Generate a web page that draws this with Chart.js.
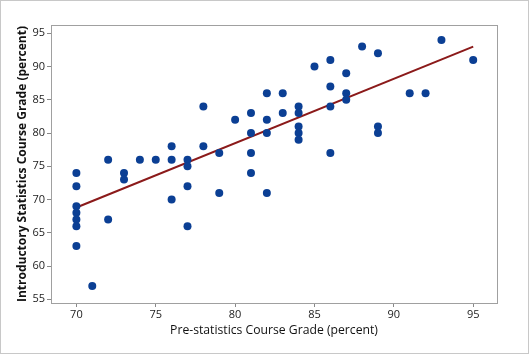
<!DOCTYPE html>
<html>
<head>
<meta charset="utf-8">
<script src="https://cdn.jsdelivr.net/npm/chart.js@4.4.1/dist/chart.umd.min.js"></script>
<style>
  html, body { margin: 0; padding: 0; background: #fff; }
  #wrap { width: 529px; height: 354px; }
</style>
</head>
<body>
<div id="wrap"><canvas id="grade-chart" width="529" height="354"></canvas></div>
<script>
// pre-statistics grade (x) and introductory statistics grade (y)
const preGrades = [
  70, 70, 70, 70, 70, 70, 70,
  71,
  72, 72,
  73, 73,
  74,
  75,
  76, 76, 76,
  77, 77, 77, 77,
  78, 78,
  79, 79,
  80,
  81, 81, 81, 81,
  82, 82, 82, 82,
  83, 83,
  84, 84, 84, 84, 84,
  85,
  86, 86, 86, 86,
  87, 87, 87,
  88,
  89, 89, 89,
  91,
  92,
  93,
  95
];
const introGrades = [
  74, 72, 69, 68, 67, 66, 63,
  57,
  76, 67,
  74, 73,
  76,
  76,
  78, 76, 70,
  76, 75, 72, 66,
  84, 78,
  77, 71,
  82,
  83, 80, 77, 74,
  86, 82, 80, 71,
  86, 83,
  84, 83, 81, 80, 79,
  90,
  91, 87, 84, 77,
  89, 86, 85,
  93,
  92, 81, 80,
  86,
  86,
  94,
  91
];
// fitted regression line ends
const fitX = [70, 95];
const fitY = [68.8, 93.0];

const axisFont = 'Open Sans';

function toPoints(xs, ys) {
  return xs.map((x, i) => ({ x: x, y: ys[i] }));
}

const framePlugin = {
  id: 'frame',
  afterDraw(chart) {
    const { ctx, chartArea } = chart;
    ctx.save();
    ctx.strokeStyle = '#a0a0a0';
    ctx.lineWidth = 1;
    ctx.strokeRect(chartArea.left + 0.5, chartArea.top + 0.5,
      chartArea.right - chartArea.left, chartArea.bottom - chartArea.top);
    ctx.strokeStyle = '#c8c8c8';
    ctx.strokeRect(0.5, 0.5, chart.width - 1, chart.height - 1);
    ctx.restore();
  }
};

function createChartData() {
  return {
    datasets: [
      {
        type: 'line',
        data: toPoints(fitX, fitY),
        borderColor: '#8b1a1a',
        borderWidth: 2,
        pointRadius: 0,
        fill: false,
        order: 2
      },
      {
        type: 'scatter',
        data: toPoints(preGrades, introGrades),
        backgroundColor: '#0b3f94',
        borderColor: '#0b3f94',
        pointRadius: 4,
        pointBorderWidth: 0,
        order: 1
      }
    ]
  };
}

function createChartScales() {
  return {
    x: {
      type: 'linear',
      min: 68.4,
      max: 96.5,
      afterBuildTicks: (scale) => {
        scale.ticks = [70, 75, 80, 85, 90, 95].map(v => ({ value: v }));
      },
      afterFit: (scale) => { scale.height = 51; },
      grid: { display: true, drawOnChartArea: false, drawTicks: true, tickLength: 4, color: '#888' },
      border: { display: false },
      ticks: { padding: 1, color: '#222', font: { family: axisFont, size: 11 }, maxRotation: 0 },
      title: {
        display: true,
        text: 'Pre-statistics Course Grade (percent)',
        color: '#111',
        font: { family: axisFont, size: 12.2 },
        padding: { top: 0, bottom: 16 }
      }
    },
    y: {
      type: 'linear',
      min: 54.44,
      max: 96.25,
      afterBuildTicks: (scale) => {
        scale.ticks = [55, 60, 65, 70, 75, 80, 85, 90, 95].map(v => ({ value: v }));
      },
      afterFit: (scale) => { scale.width = 51; },
      grid: { display: true, drawOnChartArea: false, drawTicks: true, tickLength: 4, color: '#888' },
      border: { display: false },
      ticks: { padding: 2, color: '#222', font: { family: axisFont, size: 11 } },
      title: {
        display: true,
        text: 'Introductory Statistics Course Grade (percent)',
        color: '#111',
        font: { family: axisFont, size: 12, weight: 'bold' },
        padding: { top: 15, bottom: 0 }
      }
    }
  };
}

const ctx = document.getElementById('grade-chart').getContext('2d');
new Chart(ctx, {
  data: createChartData(),
  options: {
    responsive: false,
    animation: false,
    layout: { padding: { top: 25, right: 32, left: 0, bottom: 0 } },
    scales: createChartScales(),
    plugins: { legend: { display: false }, tooltip: { enabled: false } }
  },
  plugins: [framePlugin]
});
</script>
</body>
</html>
